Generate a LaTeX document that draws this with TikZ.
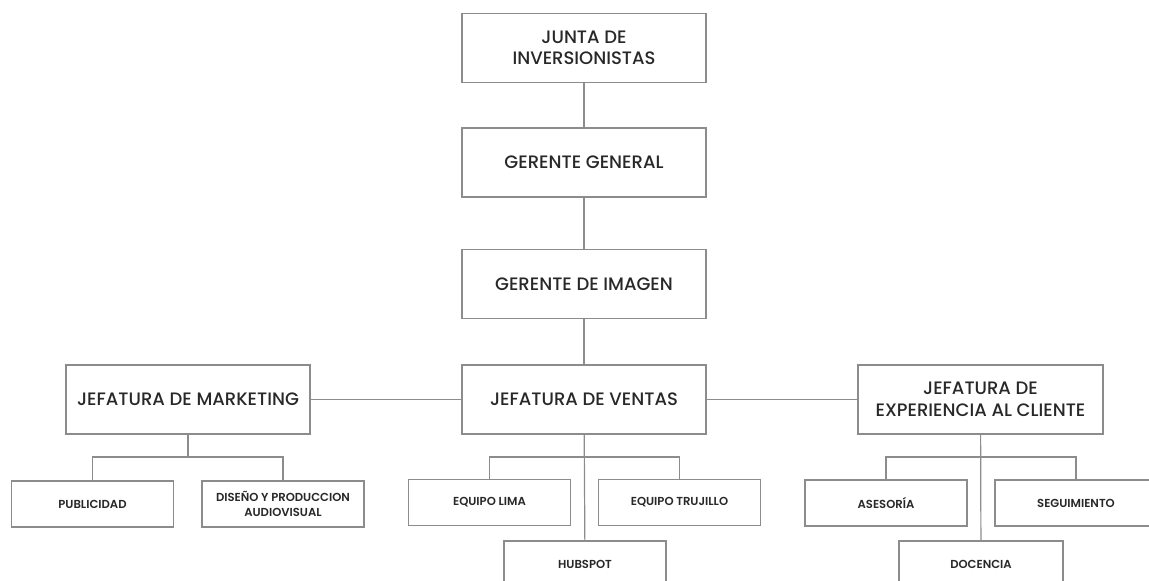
\documentclass[tikz,border=0pt]{standalone}
\usepackage{fontspec}
\setmainfont{Poppins}[UprightFont=* Medium]
\newfontfamily\unitfont{Poppins}[UprightFont=* SemiBold]
\definecolor{boxline}{RGB}{140,140,140}
\definecolor{boxtext}{RGB}{40,40,40}
\begin{document}
\begin{tikzpicture}[x=1pt, y=-1pt,
  bigbox/.style={draw=boxline, line width=1.3pt, inner sep=0pt, align=center,
    minimum width=244pt, minimum height=69pt, text=boxtext, font=\fontsize{18}{21.5}\selectfont},
  smallbox/.style={draw=boxline, line width=1.2pt, inner sep=0pt, align=center,
    minimum width=162pt, minimum height=46pt, text=boxtext, font=\unitfont\fontsize{11.6}{14.5}\selectfont},
  link/.style={draw=boxline, line width=1.2pt}]
\useasboundingbox (0,0) rectangle (1149,581);
% upper chain
\node[bigbox] (junta) at (584, 48) {JUNTA DE\\INVERSIONISTAS};
\node[bigbox] (gg) at (584, 162.5) {GERENTE GENERAL};
\node[bigbox] (gi) at (584, 284) {GERENTE DE IMAGEN};
% jefaturas
\node[bigbox] (mkt) at (188, 399.5) {JEFATURA DE MARKETING};
\node[bigbox] (ven) at (584, 399.5) {JEFATURA DE VENTAS};
\node[bigbox, minimum width=245pt] (exp) at (980.5, 399.5) {JEFATURA DE\\EXPERIENCIA AL CLIENTE};
% equipos
\node[smallbox] (pub) at (92.5, 504) {PUBLICIDAD};
\node[smallbox] (dis) at (283, 504) {DISEÑO Y PRODUCCION\\AUDIOVISUAL};
\node[smallbox] (lima) at (489.5, 502.5) {EQUIPO LIMA};
\node[smallbox] (truj) at (679.5, 502.5) {EQUIPO TRUJILLO};
\node[smallbox] (hub) at (585, 564) {HUBSPOT};
\node[smallbox] (ases) at (886, 503) {ASESORÍA};
\node[smallbox] (seg) at (1076, 503) {SEGUIMIENTO};
\node[smallbox, minimum width=164pt] (doc) at (981, 564) {DOCENCIA};

% bus points
\coordinate (mktbus) at (188, 457);
\coordinate (venbus) at (584, 457);
\coordinate (expbus) at (981, 457);

% edges
\path[link] (junta) -- (gg);
\path[link] (gg) -- (gi);
\path[link] (gi) -- (ven);
\path[link] (mkt) -- (ven);
\path[link] (ven) -- (exp);
\path[link] (mkt) -- (mktbus);
\path[link] (pub.north) |- (mktbus) -| (dis.north);
\path[link] (ven) -- (hub);
\path[link] (lima.north) |- (venbus) -| (truj.north);
\path[link] (exp) -- (doc);
\path[link] (ases.north) |- (expbus) -| (seg.north);
\end{tikzpicture}
\end{document}
